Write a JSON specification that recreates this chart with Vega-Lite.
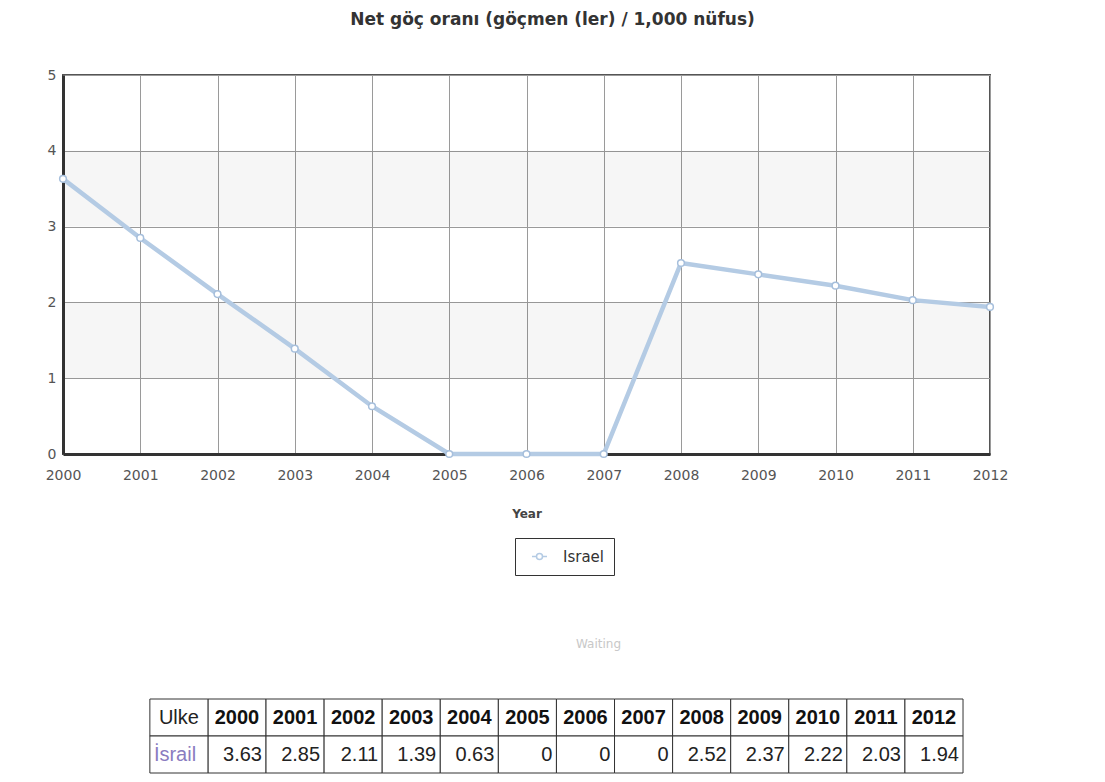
{
  "$schema": "https://vega.github.io/schema/vega-lite/v6.json",
  "background": "white",
  "padding": {"left": 44, "top": 10, "right": 10, "bottom": 5},
  "datasets": {
    "rates": [
      {"year": 2000, "value": 3.63},
      {"year": 2001, "value": 2.85},
      {"year": 2002, "value": 2.11},
      {"year": 2003, "value": 1.39},
      {"year": 2004, "value": 0.63},
      {"year": 2005, "value": 0},
      {"year": 2006, "value": 0},
      {"year": 2007, "value": 0},
      {"year": 2008, "value": 2.52},
      {"year": 2009, "value": 2.37},
      {"year": 2010, "value": 2.22},
      {"year": 2011, "value": 2.03},
      {"year": 2012, "value": 1.94}
    ],
    "ulke": [{"col": "Ulke", "country": "İsrail"}],
    "bands": [{"lo": 1, "hi": 2}, {"lo": 3, "hi": 4}]
  },
  "config": {
    "view": {"stroke": "#555", "strokeWidth": 2},
    "axis": {
      "labelFont": "DejaVu Sans", "labelFontSize": 14, "labelColor": "#555",
      "tickSize": 0, "domainColor": "#333", "domainWidth": 3,
      "gridColor": "#9a9a9a", "gridWidth": 1,
      "titleFont": "DejaVu Sans", "titleFontSize": 12, "titleColor": "#444", "titleFontWeight": "bold"
    },
    "legend": {
      "labelFont": "DejaVu Sans", "labelFontSize": 15, "labelColor": "#333"
    }
  },
  "spacing": 117,
  "vconcat": [
    {
      "width": 927,
      "height": 379,
      "title": {
        "text": "Net göç oranı (göçmen (ler) / 1,000 nüfus)",
        "font": "DejaVu Sans", "fontSize": 17, "fontWeight": "bold", "color": "#333",
        "offset": 39, "dx": 26
      },
      "layer": [
        {
          "data": {"name": "bands"},
          "mark": {"type": "rect", "fill": "#000", "opacity": 0.035},
          "encoding": {
            "y": {"field": "lo", "type": "quantitative", "scale": {"domain": [0, 5], "nice": false}},
            "y2": {"field": "hi"}
          }
        },
        {
          "data": {"name": "rates"},
          "mark": {"type": "line", "strokeWidth": 4.5},
          "encoding": {
            "x": {"field": "year", "type": "quantitative",
                  "scale": {"domain": [2000, 2012], "nice": false, "zero": false},
                  "axis": {"title": "Year", "tickCount": 12, "format": "d", "labelFlush": false, "labelPadding": 14, "titlePadding": 26}},
            "y": {"field": "value", "type": "quantitative",
                  "scale": {"domain": [0, 5], "nice": false},
                  "axis": {"title": null, "tickCount": 5, "labelPadding": 7}},
            "color": {"datum": "Israel", "type": "nominal",
                      "scale": {"range": ["#b4cbe4"]},
                      "legend": {
                        "title": null, "orient": "none", "legendX": 452, "legendY": 463,
                        "fillColor": "white", "strokeColor": "#333", "padding": 10,
                        "symbolType": "M-1,0H-0.4M0.4,0H1M-0.4,0A0.4,0.4 0 1,1 0.4,0A0.4,0.4 0 1,1 -0.4,0Z",
                        "symbolSize": 225, "symbolFillColor": "white", "symbolStrokeWidth": 1.5,
                        "symbolOffset": 6, "labelOffset": 15
                      }}
          }
        },
        {
          "data": {"name": "rates"},
          "mark": {"type": "point", "shape": "circle", "filled": true, "fill": "white",
                   "stroke": "#a6bfdc", "strokeWidth": 1.5, "size": 45, "opacity": 1},
          "encoding": {
            "x": {"field": "year", "type": "quantitative"},
            "y": {"field": "value", "type": "quantitative"}
          }
        }
      ]
    },
    {
      "width": 927,
      "height": 74,
      "view": {"stroke": null},
      "title": {
        "text": "Waiting", "font": "DejaVu Sans", "fontSize": 12, "fontWeight": "normal",
        "color": "#c8c8c8", "offset": 48, "dx": 72
      },
      "layer": [
        {
          "data": {"name": "rates"},
          "transform": [{"calculate": "toString(datum.year)", "as": "col"}],
          "layer": [
            {
              "mark": {"type": "rect", "fill": "white", "stroke": "#333", "strokeWidth": 1},
              "encoding": {
                "x": {"field": "col", "type": "nominal", "axis": null,
                      "scale": {"domain": ["Ulke","2000","2001","2002","2003","2004","2005","2006","2007","2008","2009","2010","2011","2012"],
                                "paddingInner": 0, "paddingOuter": 0.98, "align": 0.763}},
                "y": {"datum": "h", "type": "nominal", "axis": null,
                      "scale": {"domain": ["h", "d"], "paddingInner": 0, "paddingOuter": 0}}
              }
            },
            {
              "mark": {"type": "rect", "fill": "white", "stroke": "#333", "strokeWidth": 1},
              "encoding": {
                "x": {"field": "col", "type": "nominal", "axis": null},
                "y": {"datum": "d", "type": "nominal", "axis": null}
              }
            },
            {
              "mark": {"type": "text", "font": "Liberation Sans", "fontSize": 20, "fontWeight": "bold", "color": "#111"},
              "encoding": {
                "x": {"field": "col", "type": "nominal", "axis": null},
                "y": {"datum": "h", "type": "nominal", "axis": null},
                "text": {"field": "col", "type": "nominal"}
              }
            },
            {
              "mark": {"type": "text", "font": "Liberation Sans", "fontSize": 20, "color": "#222", "align": "right", "dx": 25},
              "encoding": {
                "x": {"field": "col", "type": "nominal", "axis": null},
                "y": {"datum": "d", "type": "nominal", "axis": null},
                "text": {"field": "value", "type": "nominal"}
              }
            }
          ]
        },
        {
          "data": {"name": "ulke"},
          "layer": [
            {
              "mark": {"type": "rect", "fill": "white", "stroke": "#333", "strokeWidth": 1},
              "encoding": {
                "x": {"field": "col", "type": "nominal", "axis": null},
                "y": {"datum": "h", "type": "nominal", "axis": null}
              }
            },
            {
              "mark": {"type": "rect", "fill": "white", "stroke": "#333", "strokeWidth": 1},
              "encoding": {
                "x": {"field": "col", "type": "nominal", "axis": null},
                "y": {"datum": "d", "type": "nominal", "axis": null}
              }
            },
            {
              "mark": {"type": "text", "font": "Liberation Sans", "fontSize": 20, "color": "#222"},
              "encoding": {
                "x": {"field": "col", "type": "nominal", "axis": null},
                "y": {"datum": "h", "type": "nominal", "axis": null},
                "text": {"field": "col", "type": "nominal"}
              }
            },
            {
              "mark": {"type": "text", "font": "Liberation Sans", "fontSize": 20, "color": "#8a7cc0", "align": "left", "dx": -25},
              "encoding": {
                "x": {"field": "col", "type": "nominal", "axis": null},
                "y": {"datum": "d", "type": "nominal", "axis": null},
                "text": {"field": "country", "type": "nominal"}
              }
            }
          ]
        }
      ]
    }
  ]
}
